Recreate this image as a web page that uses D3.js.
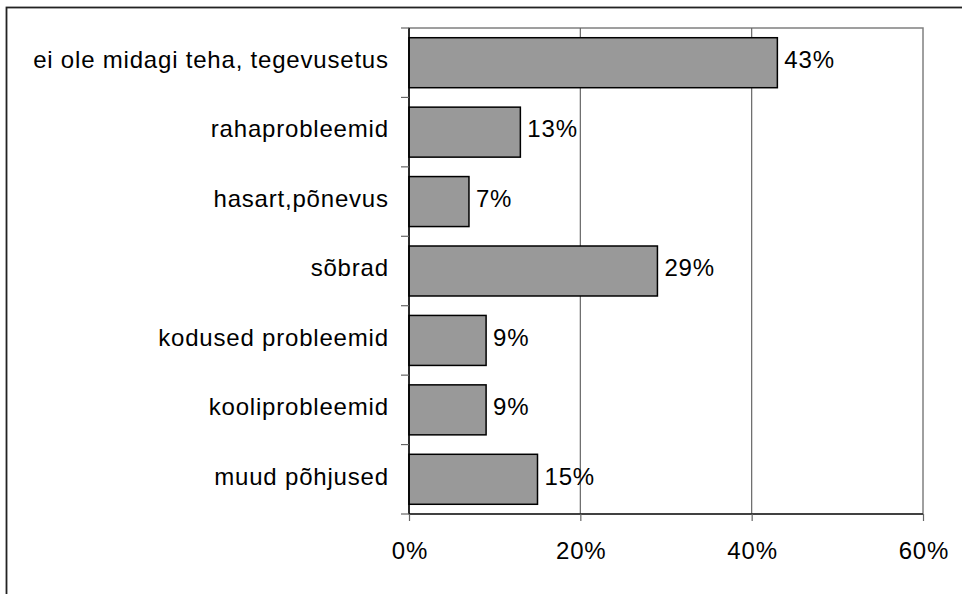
<!DOCTYPE html>
<html><head><meta charset="utf-8">
<script src="https://cdn.jsdelivr.net/npm/d3@7"></script>
<style>body{margin:0;background:#fff}svg{display:block}text{font-family:"Liberation Sans",Arial,sans-serif;fill:#000}</style>
</head><body><svg id="c" width="962" height="594"></svg>
<script>
const categories = ["ei ole midagi teha, tegevusetus","rahaprobleemid","hasart,põnevus","sõbrad","kodused probleemid","kooliprobleemid","muud põhjused"];
const values = [43, 13, 7, 29, 9, 9, 15];
const valueLabels = ["43%","13%","7%","29%","9%","9%","15%"];
const xTicks = [0, 20, 40, 60];
const xTickLabels = ["0%","20%","40%","60%"];

const FS = 24, LS = 0.8;
const svg = d3.select("#c");
const m = {left: 409, right: 923, top: 28, bottom: 514};
const x = d3.scaleLinear().domain([0, 60]).range([m.left, m.right]);
const y = d3.scaleBand().domain(categories).range([m.top, m.bottom]).paddingInner(0.28).paddingOuter(0.14);
const yb = d3.scaleBand().domain(categories).range([m.top, m.bottom]);

// outer frame
svg.append("rect").attr("x", 6.5).attr("y", 7.5).attr("width", 1000).attr("height", 1000)
  .attr("fill", "none").attr("stroke", "#222").attr("stroke-width", 1.8);

// plot border
svg.append("rect").attr("x", m.left).attr("y", m.top).attr("width", m.right - m.left).attr("height", m.bottom - m.top)
  .attr("fill", "none").attr("stroke", "#808080").attr("stroke-width", 1.5);

// gridlines
svg.append("g").selectAll("line").data(xTicks.slice(1, -1)).join("line")
  .attr("x1", d => x(d)).attr("x2", d => x(d)).attr("y1", m.top).attr("y2", m.bottom)
  .attr("stroke", "#666").attr("stroke-width", 1.2);

// bars
svg.append("g").selectAll("rect").data(values).join("rect")
  .attr("x", x(0)).attr("y", (d, i) => y(categories[i]))
  .attr("width", d => x(d) - x(0)).attr("height", y.bandwidth())
  .attr("fill", "#999999").attr("stroke", "#000").attr("stroke-width", 1.5);

// value labels
svg.append("g").selectAll("text").data(values).join("text")
  .attr("x", d => x(d) + 7).attr("y", (d, i) => y(categories[i]) + y.bandwidth() / 2)
  .attr("dy", "0.22em").attr("font-size", FS).attr("letter-spacing", LS).text((d, i) => valueLabels[i]);

// x axis
const xAxis = d3.axisBottom(x).tickValues(xTicks).tickFormat((d, i) => xTickLabels[i]).tickSize(7).tickPadding(21);
const gx = svg.append("g").attr("transform", `translate(0,${m.bottom})`).call(xAxis);
gx.select(".domain").attr("stroke", "#222").attr("stroke-width", 1.5).attr("d", `M${m.left},0H${m.right}`);
gx.selectAll(".tick line").attr("stroke", "#666").attr("stroke-width", 1.2);
gx.selectAll(".tick text").attr("font-size", FS).attr("letter-spacing", LS).attr("dx", LS / 2)
  .attr("font-family", "Liberation Sans, Arial, sans-serif").attr("fill", "#000");

// y axis
const yAxis = d3.axisLeft(yb).tickSize(0).tickPadding(21);
const gy = svg.append("g").attr("transform", `translate(${m.left},0)`).call(yAxis);
gy.select(".domain").attr("stroke", "#000").attr("stroke-width", 1.5).attr("d", `M0,${m.top}V${m.bottom}`);
gy.selectAll(".tick text").attr("font-size", FS).attr("letter-spacing", LS).attr("dx", LS).attr("dy", "0.22em")
  .attr("font-family", "Liberation Sans, Arial, sans-serif").attr("fill", "#000");
// boundary ticks
const bounds = categories.map(c => yb(c)).concat([m.bottom]);
svg.append("g").selectAll("line").data(bounds).join("line")
  .attr("x1", m.left - 8).attr("x2", m.left).attr("y1", d => d).attr("y2", d => d)
  .attr("stroke", "#666").attr("stroke-width", 1.2);
</script></body></html>
